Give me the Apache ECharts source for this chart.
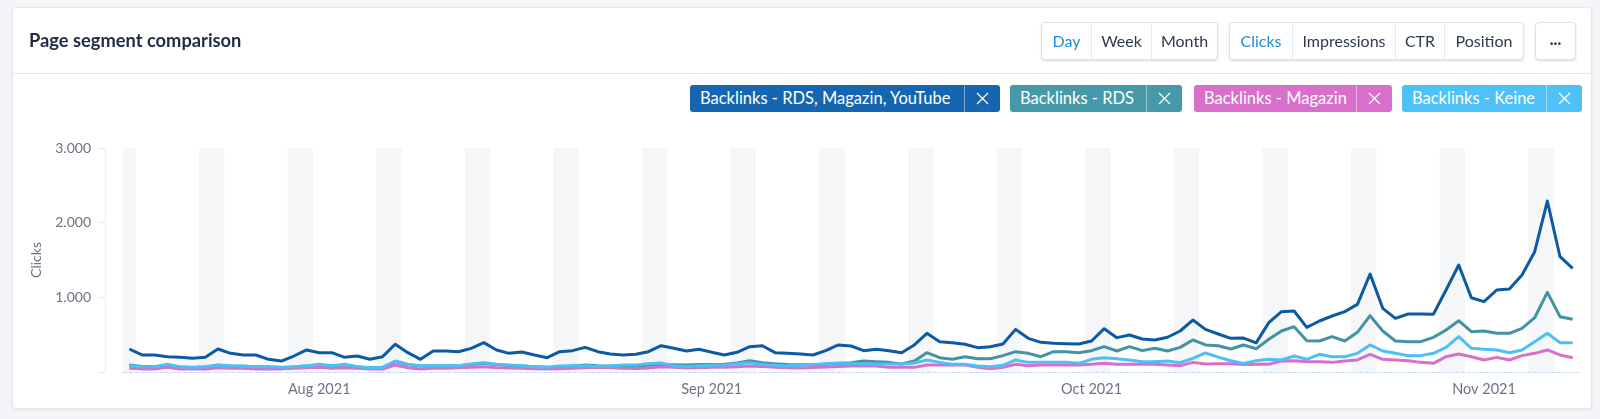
<!DOCTYPE html>
<html>
<head>
<meta charset="utf-8">
<script src="https://cdn.jsdelivr.net/npm/echarts@6/dist/echarts.min.js"></script>
<style>
  html, body { margin:0; padding:0; width:1600px; height:419px; overflow:hidden; background:#f3f5f8; font-family:Lato, "Open Sans", sans-serif; }
  .card { position:absolute; left:12px; top:7px; width:1578px; height:400px; background:#fff; border:1px solid #e4e7ec; border-radius:4px; box-shadow:0 1px 3px rgba(30,45,70,.08); }
  .head-line { position:absolute; left:13px; top:73px; width:1578px; height:1px; background:#e6e9ee; }
  .title { position:absolute; left:29px; top:29px; font-size:18.3px; line-height:22px; font-weight:700; color:#1f2d44; }
  .grp { position:absolute; top:22px; height:36px; display:flex; background:#fff; border:1px solid #dfe3e8; border-radius:4px; box-shadow:0 1px 2px rgba(30,45,70,.18); }
  .grp div { height:36px; line-height:36px; text-align:center; font-size:16px; color:#2f3a4c; border-left:1px solid #e6e9ee; }
  .grp div:first-child { border-left:none; }
  .grp .on { color:#1b8fd6; }
  .chip { position:absolute; top:85px; height:27px; display:flex; border-radius:3px; color:#fff; font-size:16.5px; line-height:27px; }
  .chip .t { padding-left:10px; white-space:nowrap; }
  .chip .x { width:35px; border-left:1px solid rgba(255,255,255,.45); display:flex; align-items:center; justify-content:center; }
  #chart { position:absolute; left:0; top:0; width:1600px; height:419px; }
</style>
</head>
<body>
<div class="card"></div>
<div class="head-line"></div>
<div id="chart"></div>
<div class="title">Page segment comparison</div>

<div class="grp" style="left:1041px;">
  <div class="on" style="width:49px;">Day</div>
  <div style="width:59px;">Week</div>
  <div style="width:65px;">Month</div>
</div>
<div class="grp" style="left:1229px;">
  <div class="on" style="width:62px;">Clicks</div>
  <div style="width:102px;">Impressions</div>
  <div style="width:48px;">CTR</div>
  <div style="width:78px;">Position</div>
</div>
<div class="grp" style="left:1535px;">
  <div style="width:39px;font-weight:900;font-size:16px;line-height:32px;color:#2f3a4c;">...</div>
</div>

<div class="chip" style="left:690px;width:310px;background:#1565b0;"><div class="t" style="width:265px;">Backlinks - RDS, Magazin, YouTube</div><div class="x"><svg width="13" height="13"><path d="M1 1L12 12M12 1L1 12" stroke="#fff" stroke-width="1.2"/></svg></div></div>
<div class="chip" style="left:1010px;width:172px;background:#4699a8;"><div class="t" style="width:126px;">Backlinks - RDS</div><div class="x"><svg width="13" height="13"><path d="M1 1L12 12M12 1L1 12" stroke="#fff" stroke-width="1.2"/></svg></div></div>
<div class="chip" style="left:1194px;width:198px;background:#d870cb;"><div class="t" style="width:152px;">Backlinks - Magazin</div><div class="x"><svg width="13" height="13"><path d="M1 1L12 12M12 1L1 12" stroke="#fff" stroke-width="1.2"/></svg></div></div>
<div class="chip" style="left:1402px;width:180px;background:#4fc1f9;"><div class="t" style="width:134px;">Backlinks - Keine</div><div class="x"><svg width="13" height="13"><path d="M1 1L12 12M12 1L1 12" stroke="#fff" stroke-width="1.2"/></svg></div></div>

<script>
// daily clicks, 18 Jul 2021 .. 9 Nov 2021
const startDate = '2021-07-18'
const monthNames = ['Jan','Feb','Mar','Apr','May','Jun','Jul','Aug','Sep','Oct','Nov','Dec']
const yTicks = [0, 1000, 2000, 3000]
// month labels sit on the 2nd day of each month in the original
const labelDay = '02'

const rdsMagazinYoutube = [
  308,228,228,205,197,183,197,308,250,228,
  228,170,147,214,295,259,259,197,214,170,
  205,371,259,170,281,281,272,317,393,295,
  250,268,228,192,272,286,330,272,241,228,
  237,272,352,317,281,304,264,228,264,339,
  352,259,250,241,228,286,362,348,286,304,
  286,259,362,518,406,393,371,326,339,375,
  571,451,397,384,379,375,415,580,460,496,
  442,429,465,549,696,571,509,451,455,390,
  661,808,817,598,683,750,808,906,1312,853,
  719,777,777,773,1098,1433,995,942,1098,1112,
  1299,1611,2290,1544,1389
]
const rds = [
  95,75,72,80,68,60,66,90,78,76,
  70,66,58,66,80,92,82,95,70,55,
  60,140,98,80,80,82,84,100,118,98,
  88,80,70,62,70,80,95,85,80,78,
  82,90,100,96,94,100,100,105,120,150,
  125,110,100,98,96,105,115,125,147,138,
  129,107,147,259,192,170,205,178,178,219,
  272,250,205,272,272,259,286,339,281,339,
  286,317,281,330,429,362,352,308,362,312,
  438,549,607,420,415,473,415,531,754,549,
  415,406,406,464,562,687,540,549,518,518,
  585,727,1067,741,706
]
const magazin = [
  49,40,40,62,40,40,40,58,49,49,
  40,40,40,49,58,62,49,58,49,40,
  40,94,58,40,49,49,58,62,71,58,
  55,50,45,40,45,50,58,62,58,50,
  48,55,70,62,55,58,62,62,70,80,
  72,62,58,55,60,66,75,80,80,80,
  62,62,62,94,94,94,94,62,45,62,
  103,85,94,94,94,94,103,116,103,103,
  103,103,94,85,129,107,110,110,100,105,
  103,147,152,138,138,129,147,161,237,170,
  161,152,129,116,205,241,205,161,196,161,
  219,250,295,228,192
]
const keine = [
  85,71,71,103,71,62,71,94,80,80,
  71,71,62,71,85,103,85,103,71,58,
  62,147,103,85,85,85,85,107,125,103,
  94,85,71,62,80,85,85,75,80,94,
  94,110,120,85,71,85,90,94,110,125,
  100,90,85,90,100,110,120,115,107,107,
  107,107,120,161,129,103,103,80,71,89,
  161,129,129,129,129,116,170,192,178,161,
  138,138,147,125,183,255,200,150,115,150,
  170,161,214,170,237,205,205,250,362,281,
  250,219,219,250,330,473,317,304,295,259,
  295,406,518,393,393
]

const seriesNames = ['Backlinks - RDS, Magazin, YouTube', 'Backlinks - RDS', 'Backlinks - Magazin', 'Backlinks - Keine']
const seriesColors = ['#0b5aa3', '#4393a3', '#d86fcc', '#4dbff8']

let days = []
let t0 = new Date(startDate + 'T00:00:00Z')
for (let i = 0; i < rdsMagazinYoutube.length; i++) {
  let d = new Date(t0.getTime() + i * 86400000)
  days.push(d.toISOString().slice(0, 10))
}
let yMax = yTicks[yTicks.length - 1]
// grey bands behind saturdays and sundays
let weekend = days.map(d => {
  let wd = new Date(d + 'T00:00:00Z').getUTCDay()
  return (wd === 0 || wd === 6) ? yMax : '-'
})

let chart = echarts.init(document.getElementById('chart'))
let lineData = [rdsMagazinYoutube, rds, magazin, keine]
let series = [{
  name: 'weekend',
  type: 'bar',
  data: weekend,
  barCategoryGap: '0%',
  itemStyle: { color: '#f5f6f8' },
  silent: true,
  z: 0
}]
for (let i = 0; i < lineData.length; i++) {
  series.push({
    name: seriesNames[i],
    type: 'line',
    data: lineData[i],
    symbol: 'none',
    lineStyle: { width: 3, color: seriesColors[i], join: 'round' },
    itemStyle: { color: seriesColors[i] },
    z: 2 + i
  })
}

chart.setOption({
  animation: false,
  textStyle: { fontFamily: 'Lato' },
  grid: { left: 123, right: 21, top: 148, bottom: 47 },
  xAxis: {
    type: 'category',
    data: days,
    axisLine: { lineStyle: { color: '#c6dcf1', type: 'dashed', width: 1 } },
    axisTick: { show: false },
    axisLabel: {
      color: '#6b7384',
      fontSize: 14.5,
      margin: 10,
      interval: (idx, val) => val.slice(8) === labelDay,
      formatter: val => monthNames[parseInt(val.slice(5, 7)) - 1] + ' ' + val.slice(0, 4)
    },
    splitLine: { show: false }
  },
  yAxis: {
    type: 'value',
    min: yTicks[0],
    max: yMax,
    interval: yTicks[1] - yTicks[0],
    offset: 18,
    name: 'Clicks',
    nameLocation: 'middle',
    nameGap: 62,
    nameTextStyle: { color: '#6b7384', fontSize: 14 },
    axisLine: { show: true, lineStyle: { color: '#eceef2' } },
    axisTick: { show: true, length: 7, lineStyle: { color: '#e6e8ec' } },
    axisLabel: {
      color: '#6b7384',
      fontSize: 14,
      margin: 14,
      formatter: v => v === 0 ? '' : String(v).replace(/\B(?=(\d{3})+(?!\d))/g, '.')
    },
    splitLine: { show: false }
  },
  series: series
})
</script>
</body>
</html>
